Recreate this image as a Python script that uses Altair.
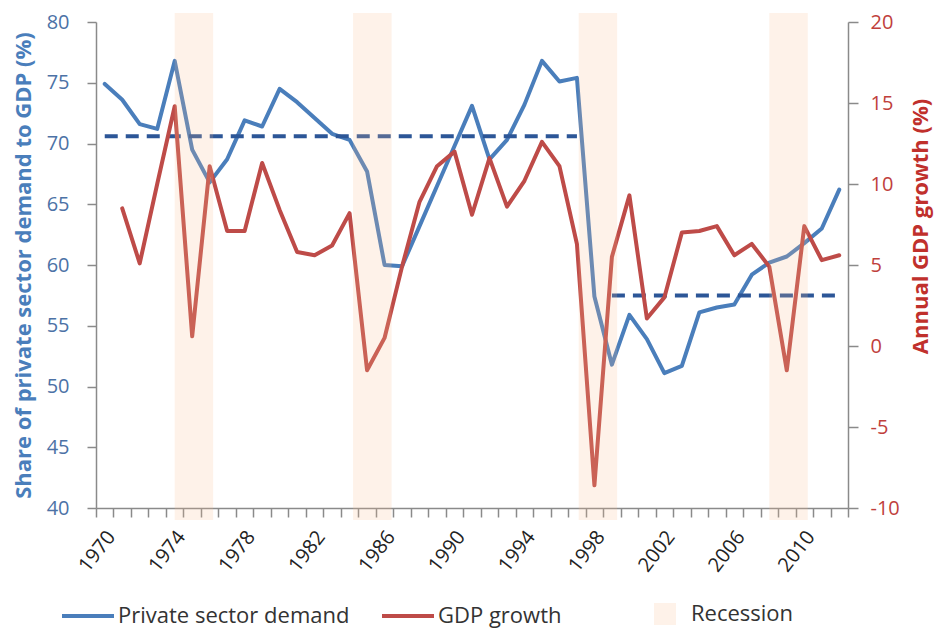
import altair as alt
import pandas as pd

years = list(range(1970, 2013))
private_demand = [74.9, 73.6, 71.6, 71.2, 76.8, 69.5, 66.8, 68.7, 71.9, 71.4,
                  74.5, 73.4, 72.1, 70.8, 70.3, 67.7, 60.0, 59.9, 63.2, 66.5,
                  69.8, 73.1, 68.7, 70.3, 73.2, 76.8, 75.1, 75.4, 57.4, 51.8,
                  55.9, 53.9, 51.1, 51.7, 56.1, 56.5, 56.75, 59.2, 60.2, 60.7,
                  61.8, 63.0, 66.2]
gdp_growth = [None, 8.5, 5.1, 10.0, 14.8, 0.6, 11.1, 7.1, 7.1, 11.3,
              8.4, 5.8, 5.6, 6.2, 8.2, -1.5, 0.5, 4.9, 8.9, 11.1,
              12.0, 8.1, 11.6, 8.6, 10.2, 12.6, 11.1, 6.3, -8.6, 5.5,
              9.3, 1.7, 3.0, 7.0, 7.1, 7.4, 5.6, 6.3, 4.9, -1.5,
              7.4, 5.3, 5.6]
avg_start = [1970, 1999]
avg_end = [1997, 2012]
avg_value = [70.6, 57.5]
rec_start = [1974.0, 1984.2, 1997.1, 2008.0]
rec_end = [1976.2, 1986.4, 1999.3, 2010.2]

FONT = "Open Sans"
BLUE = "#4A7EBB"
RED = "#BE4B48"
DASH = "#2C5697"
AXIS_GREY = "#8A8A8A"
PEACH = "#FAC090"

df_p = pd.DataFrame({"year": years, "value": private_demand, "series": "Private sector demand"})
df_g = pd.DataFrame({"year": years, "value": gdp_growth, "series": "GDP growth"}).dropna()
df_avg = pd.DataFrame({"start": avg_start, "end": avg_end, "value": avg_value})
df_rec = pd.DataFrame({"start": rec_start, "end": rec_end, "label": ["Recession"] * len(rec_start)})

x_scale = alt.Scale(domain=[1969.5, 2012.5], nice=False, zero=False)
tick_vals = [y - 0.5 for y in years] + [years[-1] + 0.5]
x_axis = alt.Axis(
    values=tick_vals,
    labelExpr="((datum.value + 0.5) % 4 == 2) ? '' + (datum.value + 0.5) : ''",
    labelOffset=15, labelAngle=-52, labelAlign="right", labelBaseline="middle",
    labelFont=FONT, labelFontSize=20, labelColor="#222222",
    tickSize=9, tickColor=AXIS_GREY, tickWidth=1.5,
    domainColor=AXIS_GREY, domainWidth=1.5,
    labelPadding=16, grid=False, title=None,
    labelFlush=False, labelOverlap=False, labelBound=False,
)

left_scale = alt.Scale(domain=[40, 80], nice=False, zero=False)
left_axis = alt.Axis(
    orient="left", values=list(range(40, 81, 5)), grid=False,
    tickSize=9, tickColor=AXIS_GREY, tickWidth=1.5,
    domainColor=AXIS_GREY, domainWidth=1.5,
    labelFont=FONT, labelFontSize=20, labelColor="#4C72A6", labelPadding=18,
    title="Share of private sector demand to GDP (%)",
    titleFont=FONT, titleFontSize=22, titleFontWeight="bold", titleColor=BLUE,
    titleX=-73, titleY=243, titleAngle=270, titleAlign="center", titleBaseline="middle",
)
right_scale = alt.Scale(domain=[-10, 20], nice=False, zero=False)
right_axis = alt.Axis(
    orient="right", values=list(range(-10, 21, 5)), grid=False,
    labelExpr="'' + datum.value",
    tickSize=10, tickColor=AXIS_GREY, tickWidth=1.5,
    domainColor=AXIS_GREY, domainWidth=1.5,
    labelFont=FONT, labelFontSize=20, labelColor="#C0403C", labelPadding=12,
    title="Annual GDP growth (%)",
    titleFont=FONT, titleFontSize=22, titleFontWeight="bold", titleColor="#C0302C",
    titleX=72, titleY=204, titleAngle=270, titleAlign="center", titleBaseline="middle",
)

color_scale = alt.Scale(domain=["Private sector demand", "GDP growth"], range=[BLUE, RED])
color_legend = alt.Legend(
    orient="none", legendX=-36, legendY=566, direction="horizontal", title=None,
    symbolType="stroke", symbolSize=2704, symbolStrokeWidth=4,
    labelFont=FONT, labelFontSize=22, labelColor="#333333", labelOffset=2,
    labelLimit=400, columnPadding=24, padding=0,
)

blue = alt.Chart(df_p).mark_line(strokeWidth=4, strokeCap="round", strokeJoin="round").encode(
    x=alt.X("year:Q", scale=x_scale, axis=x_axis),
    y=alt.Y("value:Q", scale=left_scale, axis=left_axis),
    color=alt.Color("series:N", scale=color_scale, legend=color_legend),
)
dashed = alt.Chart(df_avg).mark_rule(strokeWidth=4, strokeDash=[13, 8], color=DASH).encode(
    x=alt.X("start:Q", scale=x_scale, axis=x_axis),
    x2="end:Q",
    y=alt.Y("value:Q", scale=left_scale, axis=left_axis),
)
red = alt.Chart(df_g).mark_line(strokeWidth=4, strokeCap="round", strokeJoin="round").encode(
    x=alt.X("year:Q", scale=x_scale, axis=x_axis),
    y=alt.Y("value:Q", scale=right_scale, axis=right_axis),
    color=alt.Color("series:N", scale=color_scale, legend=color_legend),
)
bands = alt.Chart(df_rec).mark_rect(opacity=0.2).encode(
    x=alt.X("start:Q", scale=x_scale, axis=x_axis),
    x2="end:Q",
    y=alt.value(-9),
    y2=alt.value(498),
    fill=alt.Fill("label:N", scale=alt.Scale(domain=["Recession"], range=[PEACH]),
                  legend=alt.Legend(orient="none", legendX=558, legendY=581, title=None,
                                    symbolType="square", symbolSize=484, symbolStrokeWidth=0,
                                    symbolOpacity=0.2, labelFont=FONT, labelFontSize=22,
                                    labelColor="#333333", labelOffset=15, labelLimit=300,
                                    padding=0)),
)

left = alt.layer(blue, dashed)
chart = alt.layer(left, red, bands).resolve_scale(y="independent").properties(
    width=752, height=486,
    autosize=alt.AutoSizeParams(type="none"),
    padding={"left": 88, "top": 14, "right": 87, "bottom": 124},
    background="white",
).configure_view(stroke=None)

chart.save("out.html", embed_options={"renderer": "svg", "actions": False})
